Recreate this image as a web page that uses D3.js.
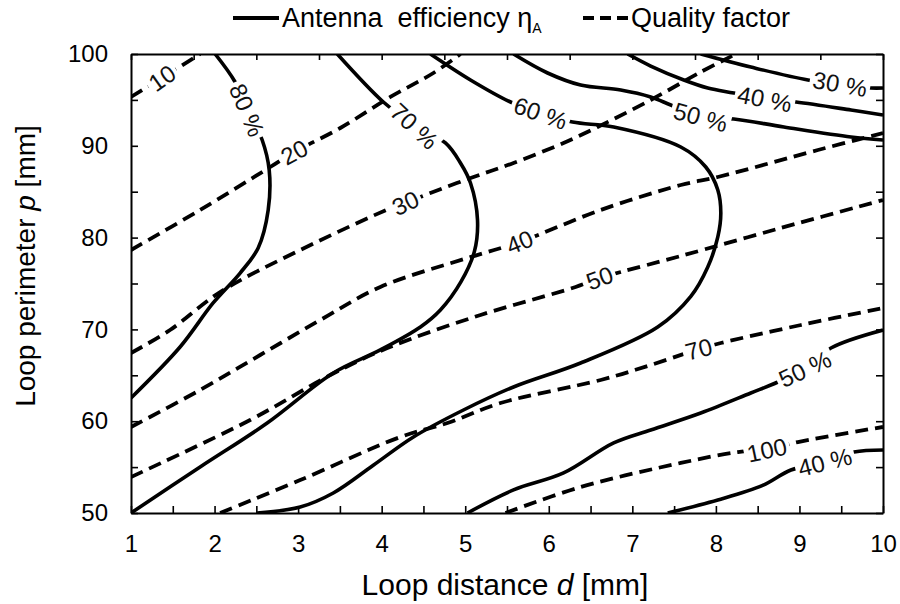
<!DOCTYPE html>
<html>
<head>
<meta charset="utf-8">
<script src="https://cdn.jsdelivr.net/npm/d3@7"></script>
<style>
  html, body { margin: 0; padding: 0; background: #fff; }
  svg { display: block; font-family: "Liberation Sans", Arial, Helvetica, sans-serif; }
</style>
</head>
<body>
<svg id="chart" width="900" height="604"></svg>
<script>
// ---------------- data ----------------
// axis ticks
const xTickLabels = [1, 2, 3, 4, 5, 6, 7, 8, 9, 10];
const yTickLabels = [50, 60, 70, 80, 90, 100];

// antenna efficiency contours, points as [loop distance d (mm), loop perimeter p (mm)]
const eff80 = [[2.007,100],[2.246,96.95],[2.426,93.36],[2.570,90.63],[2.654,87.36],[2.642,83.0],
               [2.522,78.87],[2.306,76.14],[1.983,72.88],[1.587,68.08],[1.0,62.53]];
const eff70 = [[3.469,100],[4.020,94.77],[4.392,92.16],[4.763,90.31],[4.943,88.13],[5.063,85.95],
               [5.147,81.92],[5.110,78.50],[4.950,75.20],[4.703,72.11],[4.464,70.26],
               [3.984,67.76],[3.421,65.25],[2.630,59.80],[1.827,55.01],[1.0,50]];
const eff60 = [[4.583,100],[5.063,97.17],[5.542,94.77],[5.902,93.57],[6.285,92.59],[6.777,92.05],
               [7.580,89.87],[7.879,87.69],[8.023,85.19],[8.059,82.68],[8.023,80.07],[7.903,76.80],
               [7.700,73.60],[7.304,70.26],[6.381,66.34],[5.578,63.73],[4.979,61.22],
               [4.380,58.28],[3.900,55.20],[3.421,52.18],[3.025,50.65],[2.510,50]];
const eff50Top = [[5.578,100],[5.986,97.93],[6.381,96.62],[6.861,96.08],[7.220,95.32],[7.460,94.44],
                  [7.819,93.14],[8.215,92.92],[8.814,92.05],[9.617,90.96],[10,90.63]];
const eff40Top = [[6.944,100],[7.220,98.69],[7.616,97.17],[7.903,96.30],[8.215,95.75],[8.586,95.10],
                  [8.958,94.77],[9.617,93.90],[10,93.36]];
const eff30 = [[7.819,100],[8.418,98.58],[9.102,97.17],[9.485,96.73],[9.857,96.30],[10,96.30]];
const eff50Low = [[5.027,50],[5.578,52.51],[6.177,54.36],[6.777,57.63],[7.220,59.04],[7.819,60.89],
                  [8.418,63.07],[8.742,64.27],[9.066,65.69],[9.377,67.97],[10,69.93]];
const eff40Low = [[7.424,50],[8.023,51.42],[8.560,53.00],[8.898,54.68],[9.305,55.56],[9.653,56.64],[10,56.86]];

// quality factor contours
const q10 = [[1,95.32],[1.372,97.39],[1.827,100]];
const q20 = [[1,78.65],[1.827,83.01],[2.666,87.69],[2.953,89.32],[3.505,91.94],[4.104,95.32],
             [4.619,97.93],[4.943,100]];
const q30 = [[1,67.43],[1.467,69.93],[2.067,74.07],[3.025,78.65],[4.140,83.33],[4.284,83.77],
             [4.583,84.86],[5.099,86.60],[5.578,88.13],[6.177,90.31],[6.585,92.05],[7.220,94.99],
             [7.819,98.04],[8.239,100]];
const q40 = [[1,59.37],[1.827,63.40],[2.546,67.21],[3.265,71.02],[3.984,74.62],[5.027,77.78],
             [5.650,79.52],[6.621,83.01],[7.580,85.73],[8.023,86.60],[9.221,89.54],[10,91.39]];
const q50 = [[1,53.92],[2.426,60.13],[3.385,65.03],[4.068,67.97],[5.183,71.57],[6.321,74.62],
             [6.609,75.60],[6.861,76.25],[7.580,78.00],[8.778,81.05],[10,84.10]];
const q70 = [[2.067,50],[3.025,53.59],[4.224,58.28],[4.787,59.80],[5.422,61.98],[6.621,64.49],
             [7.220,66.12],[7.795,67.86],[8.059,68.52],[9.018,70.48],[10,72.33]];
const q100 = [[5.482,50],[6.381,52.83],[7.580,55.45],[8.263,56.64],[8.610,56.86],[8.982,57.73],[10,59.37]];

// contour labels: [text, d, p]
const effLabels = [["80 %",2.390,93.90],["70 %",4.392,92.16],["60 %",5.902,93.57],["50 %",7.819,93.14],
                   ["40 %",8.586,95.10],["30 %",9.485,96.73],["50 %",9.066,65.69],["40 %",9.305,55.56]];
const qLabels = [["10",1.372,97.39],["20",2.953,89.32],["30",4.284,83.77],["40",5.650,79.52],
                 ["50",6.609,75.60],["70",7.795,67.86],["100",8.610,56.86]];

const effSeries = [eff80, eff70, eff60, eff50Top, eff40Top, eff30, eff50Low, eff40Low];
const qSeries = [q10, q20, q30, q40, q50, q70, q100];

// ---------------- layout ----------------
const svg = d3.select("#chart");
const plot = { left: 131, right: 883, top: 54, bottom: 513 };

const x = d3.scaleLinear().domain([1, 10]).range([plot.left, plot.right]);
const y = d3.scaleLinear().domain([50, 100]).range([plot.bottom, plot.top]);

// text rotation of the in-line labels (degrees)
const effLabelAngles = [67, 43, 19, 15, 11, 10, -25, -14];
const qLabelAngles = [-35, -28, -25, -22, -20, -15, -12];
const labelFont = 24;

const defs = svg.append("defs");
defs.append("clipPath").attr("id", "plotClip")
  .append("rect")
  .attr("x", plot.left).attr("y", plot.top)
  .attr("width", plot.right - plot.left).attr("height", plot.bottom - plot.top);

const line = d3.line()
  .x(d => x(d[0])).y(d => y(d[1]))
  .curve(d3.curveCatmullRom.alpha(0.5));

const linesG = svg.append("g").attr("clip-path", "url(#plotClip)");
const labelsG = svg.append("g");

// place a label, then cut a gap in its own contour with a mask
function drawContour(pts, lab, angle, id, dashed) {
  const cx = x(lab[1]), cy = y(lab[2]);
  const t = labelsG.append("text")
    .attr("transform", `translate(${cx},${cy}) rotate(${angle})`)
    .attr("text-anchor", "middle")
    .attr("dy", "0.36em")
    .attr("font-size", labelFont)
    .attr("fill", "#111")
    .text(lab[0]);
  const w = t.node().getComputedTextLength();
  const mask = defs.append("mask").attr("id", id)
    .attr("maskUnits", "userSpaceOnUse")
    .attr("x", 0).attr("y", 0).attr("width", 900).attr("height", 604);
  mask.append("rect").attr("x", 0).attr("y", 0).attr("width", 900).attr("height", 604).attr("fill", "#fff");
  mask.append("rect")
    .attr("transform", `translate(${cx},${cy}) rotate(${angle})`)
    .attr("x", -w / 2 - 3).attr("y", -labelFont * 0.5)
    .attr("width", w + 6).attr("height", labelFont)
    .attr("fill", "#000");
  linesG.append("path")
    .attr("d", line(pts))
    .attr("fill", "none")
    .attr("stroke", "#000")
    .attr("stroke-width", dashed ? 3.8 : 3.6)
    .attr("stroke-dasharray", dashed ? "13,7" : null)
    .attr("mask", `url(#${id})`);
}

effSeries.forEach((pts, i) => drawContour(pts, effLabels[i], effLabelAngles[i], "effMask" + i, false));
qSeries.forEach((pts, i) => drawContour(pts, qLabels[i], qLabelAngles[i], "qMask" + i, true));

// ---------------- axes ----------------
const tickFont = 24;
const styleAxis = g => {
  g.selectAll(".domain").attr("stroke", "#000").attr("stroke-width", 2);
  g.selectAll(".tick line").attr("stroke", "#000").attr("stroke-width", 1.6);
  g.selectAll(".tick text").attr("font-size", tickFont).attr("fill", "#000")
    .attr("font-family", "Liberation Sans, Arial, sans-serif");
};

const halfSteps = d3.range(1, 10.001, 0.5);
svg.append("g")
  .attr("transform", `translate(0,${plot.bottom})`)
  .call(d3.axisBottom(x).tickValues(halfSteps)
    .tickFormat(v => xTickLabels.includes(v) ? String(v) : "")
    .tickSizeInner(-7).tickSizeOuter(0).tickPadding(22))
  .call(styleAxis);

svg.append("g")
  .attr("transform", `translate(0,${plot.top})`)
  .call(d3.axisTop(x).tickValues(d3.range(1, 10.001, 0.75))
    .tickFormat("").tickSizeInner(-6).tickSizeOuter(0))
  .call(styleAxis);

const fiveSteps = d3.range(50, 100.001, 5);
svg.append("g")
  .attr("transform", `translate(${plot.left},0)`)
  .call(d3.axisLeft(y).tickValues(fiveSteps)
    .tickFormat(v => yTickLabels.includes(v) ? String(v) : "")
    .tickSizeInner(-7).tickSizeOuter(0).tickPadding(23))
  .call(styleAxis);

svg.append("g")
  .attr("transform", `translate(${plot.right},0)`)
  .call(d3.axisRight(y).tickValues(fiveSteps)
    .tickFormat("").tickSizeInner(-7).tickSizeOuter(0))
  .call(styleAxis);

// axis titles
const xTitle = svg.append("text")
  .attr("x", (plot.left + plot.right) / 2 - 2).attr("y", 595)
  .attr("text-anchor", "middle").attr("font-size", 30).attr("fill", "#000");
xTitle.append("tspan").text("Loop distance ");
xTitle.append("tspan").attr("font-style", "italic").text("d");
xTitle.append("tspan").text(" [mm]");

const yTitle = svg.append("text")
  .attr("transform", "translate(35,266) rotate(-90)")
  .attr("text-anchor", "middle").attr("font-size", 28).attr("fill", "#000");
yTitle.append("tspan").text("Loop perimeter ");
yTitle.append("tspan").attr("font-style", "italic").text("p");
yTitle.append("tspan").text(" [mm]");

// ---------------- legend ----------------
const legend = svg.append("g");
legend.append("line")
  .attr("x1", 233).attr("x2", 279).attr("y1", 18).attr("y2", 18)
  .attr("stroke", "#000").attr("stroke-width", 4);
const lt1 = legend.append("text")
  .attr("x", 282).attr("y", 27).attr("font-size", 27).attr("fill", "#000")
  .style("white-space", "pre");
lt1.append("tspan").text("Antenna  efficiency η");
lt1.append("tspan").attr("font-size", 14).attr("dy", 6).text("A");

legend.append("line")
  .attr("x1", 583).attr("x2", 628).attr("y1", 18).attr("y2", 18)
  .attr("stroke", "#000").attr("stroke-width", 4)
  .attr("stroke-dasharray", "11,6");
legend.append("text")
  .attr("x", 631).attr("y", 27).attr("font-size", 27).attr("fill", "#000")
  .text("Quality factor");
</script>
</body>
</html>
